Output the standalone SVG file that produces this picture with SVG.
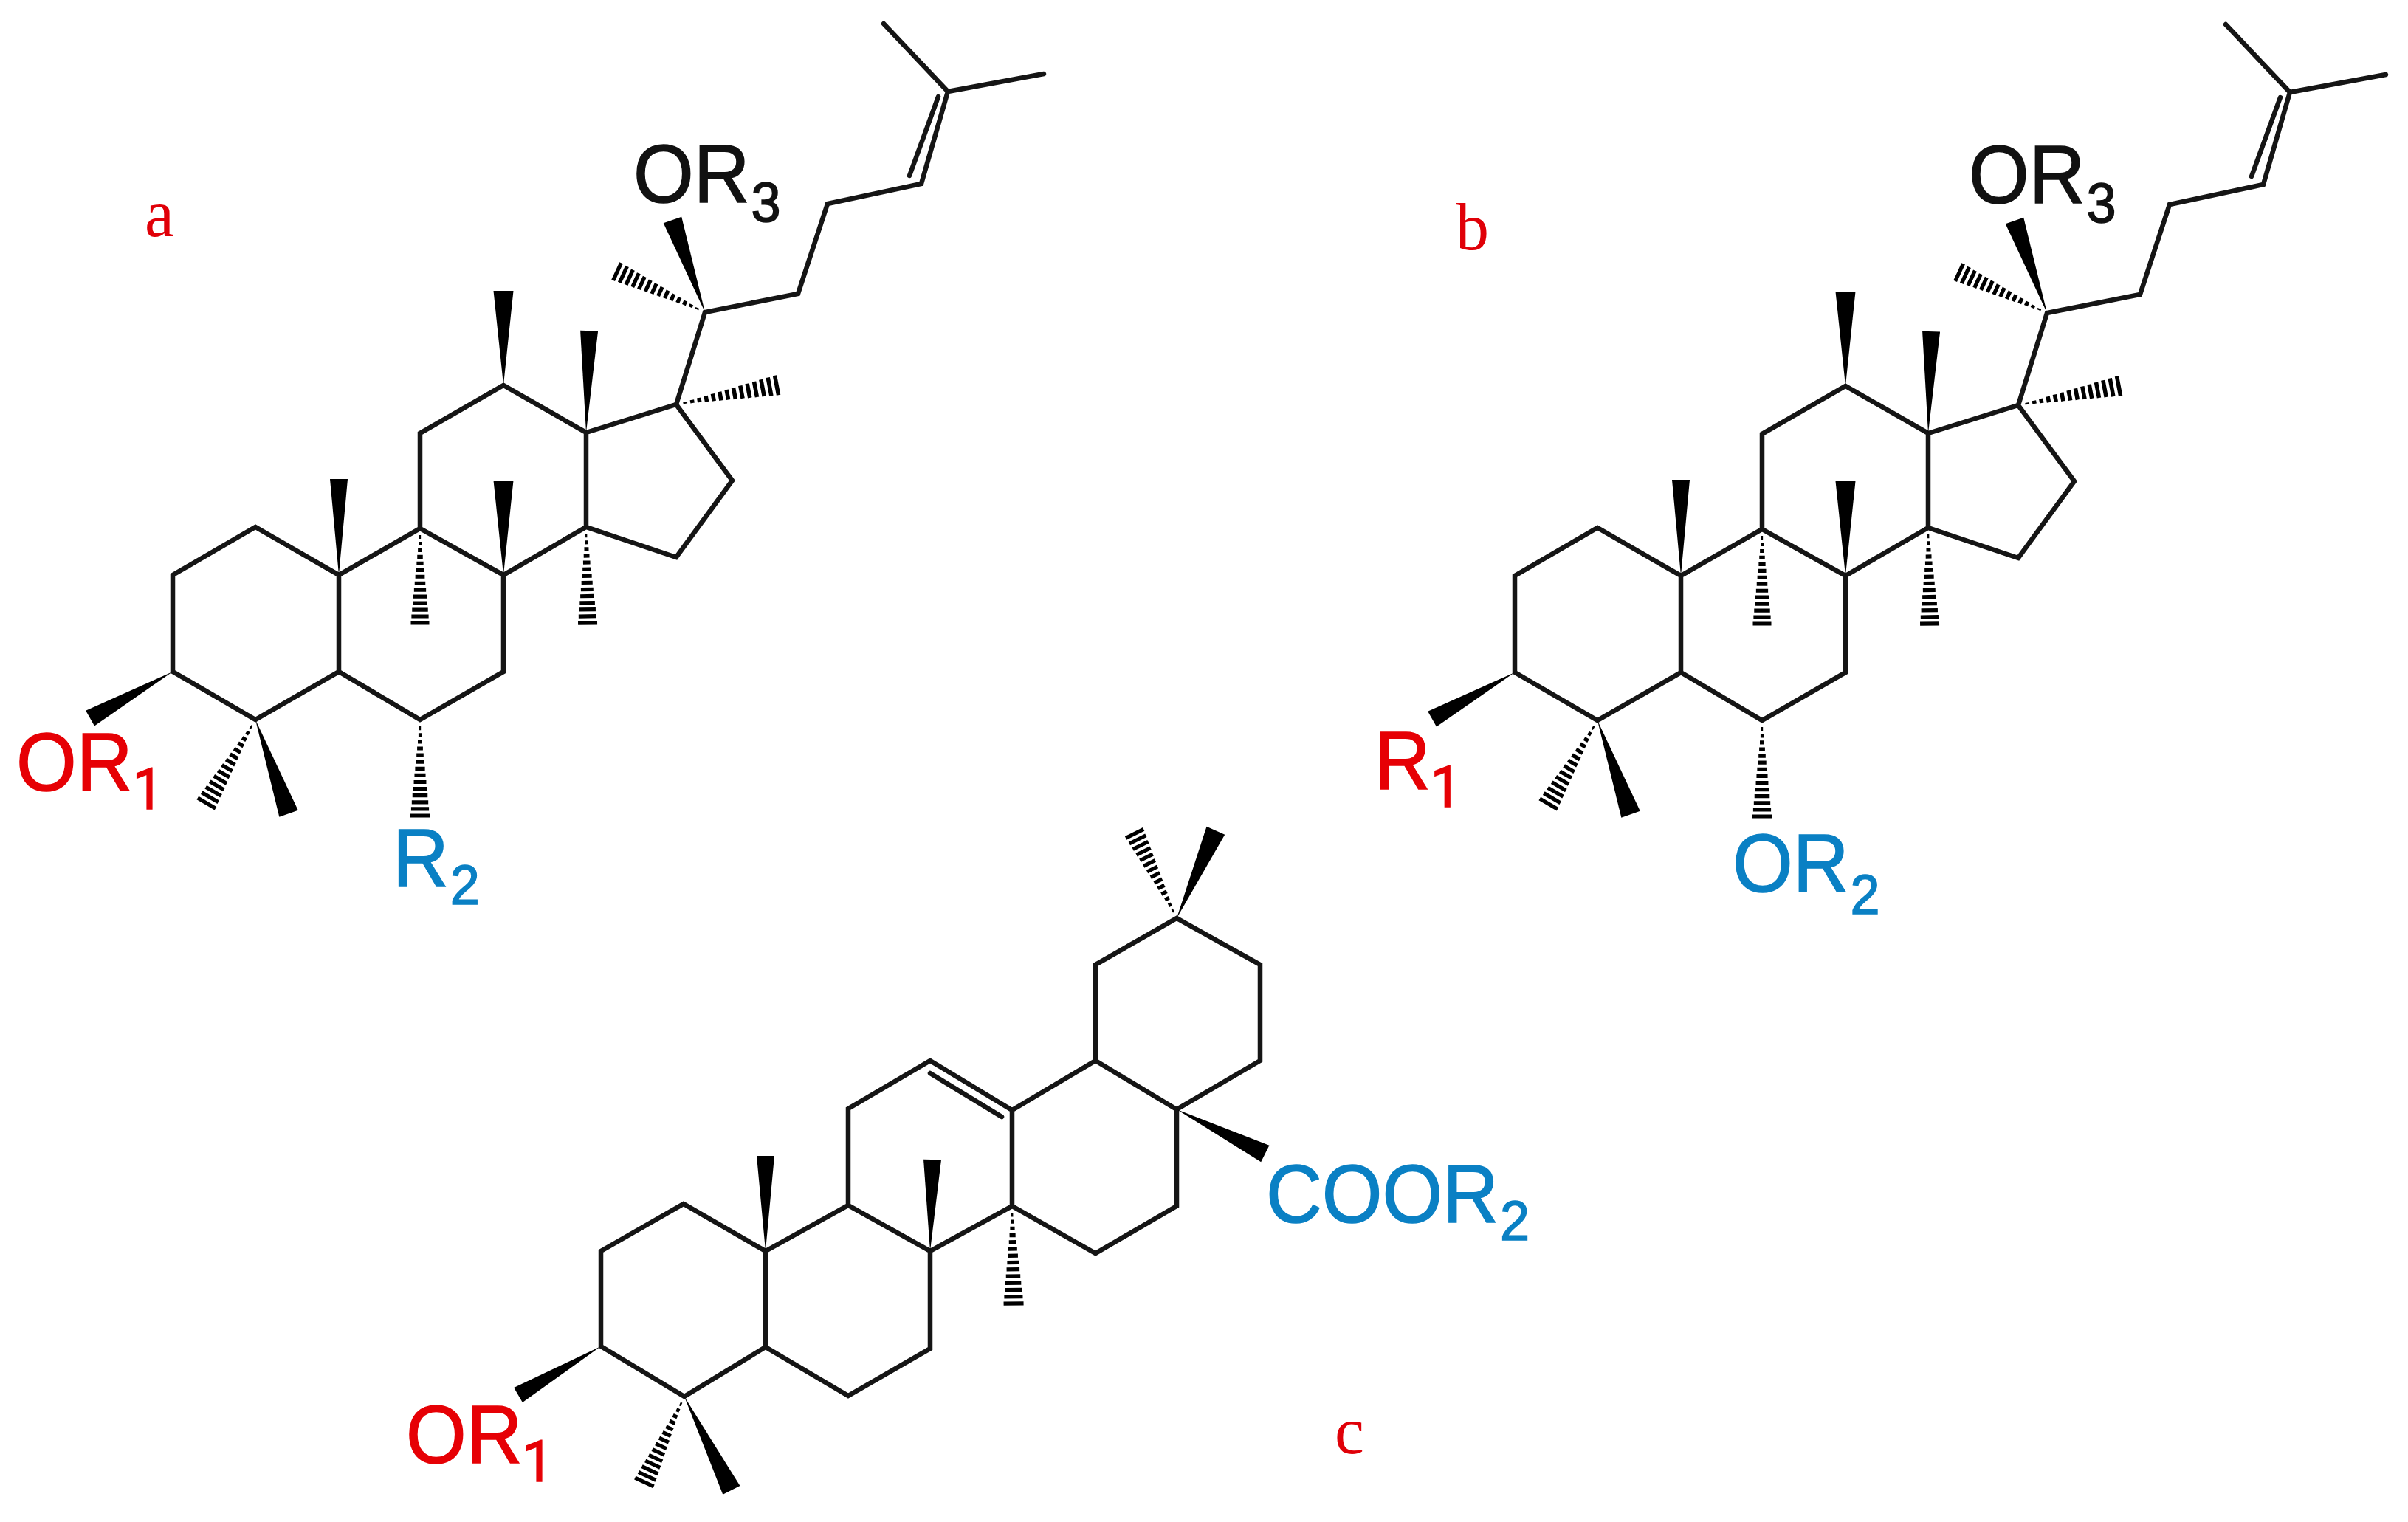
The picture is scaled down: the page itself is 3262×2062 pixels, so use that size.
<svg xmlns="http://www.w3.org/2000/svg" width="3262" height="2062" viewBox="0 0 3262 2062">
<style>
.bond{fill:none;stroke:#151515;stroke-width:6.5;stroke-linejoin:miter;stroke-linecap:round}
.chem{font-family:"Liberation Sans",Arial,sans-serif;font-size:105px;stroke-width:1.5}
.tag{font-family:"Liberation Serif","Times New Roman",serif;font-size:90px;fill:#e00008}
.red{fill:#e60005;stroke:#e60005}.blue{fill:#0a80c4;stroke:#0a80c4}.black{fill:#111;stroke:#111}
.sub{font-size:72px}
.one{font-family:Roboto,"Liberation Sans",sans-serif;font-size:74px}
</style>
<defs>
<polygon id="wedge" points="0,0 100,-50 100,50" fill="#000"/>
<path id="hash" fill="none" stroke="#000" stroke-width="4" d="M9,-4.5V4.5M16,-8V8M23,-11.5V11.5M30,-15V15M37,-18.5V18.5M44,-22V22M51,-25.5V25.5M58,-29V29M65,-32.5V32.5M72,-36V36M79,-39.5V39.5M86,-43V43M93,-46.5V46.5M100,-50V50"/>
<g id="dammarane">
<path class="bond" d="M234,779L346,714L459,779L459,910L346,975L234,910ZM459,779L569,716L682,779L682,910L569,975L459,910M569,716L569,587L682,522L794,586L794,714L682,779M794,714L916,755L992,651L916,548L794,586M916,548L955,423L1081,398L1121,276L1248,249L1284,124L1197,32M1284,124L1414,100M1271,131L1232,238"/>
<use href="#wedge" transform="translate(682,522) rotate(-90) scale(1.28,.27)"/>
<use href="#wedge" transform="translate(794,586) rotate(-88.3) scale(1.38,.24)"/>
<use href="#wedge" transform="translate(459,779) rotate(-90) scale(1.3,.24)"/>
<use href="#wedge" transform="translate(682,779) rotate(-90) scale(1.28,.27)"/>
<use href="#wedge" transform="translate(234,910) rotate(150.6) scale(1.285,.24)"/>
<use href="#wedge" transform="translate(346,975) rotate(70.5) scale(1.35,.27)"/>
<use href="#wedge" transform="translate(955,423) rotate(-109.4) scale(1.325,.26)"/>
<use href="#hash" transform="translate(569,716) rotate(90) scale(1.28,.25)"/>
<use href="#hash" transform="translate(794,714) rotate(89.1) scale(1.3,.26)"/>
<use href="#hash" transform="translate(569,975) rotate(90) scale(1.3,.26)"/>
<use href="#hash" transform="translate(346,975) rotate(120.3) scale(1.31,.28)"/>
<use href="#hash" transform="translate(955,423) rotate(-155.2) scale(1.31,.26)"/>
<use href="#hash" transform="translate(916,548) rotate(-10.8) scale(1.385,.27)"/>
</g>
</defs>
<rect width="3262" height="2062" fill="#fff"/>
<g id="connectors">
<use id="structure-a-bonds" href="#dammarane"/>
<use id="structure-b-bonds" href="#dammarane" x="1818" y="1"/>
<g id="structure-c-bonds">
<path class="bond" d="M814,1695L926,1631L1037,1695L1037,1825L927,1892L814,1824ZM1037,1695L1149,1633L1260,1695L1260,1827L1149,1891L1037,1825M1149,1633L1149,1502L1260,1437L1371,1504L1371,1634L1260,1695M1371,1634L1484,1698L1594,1634L1594,1503L1484,1437L1371,1504M1484,1437L1484,1307L1594,1244L1707,1307L1707,1437L1594,1503M1260,1454L1357,1513"/>
<use href="#wedge" transform="translate(814,1824) rotate(149.5) scale(1.3,.23)"/>
<use href="#wedge" transform="translate(927,1892) rotate(63.3) scale(1.42,.26)"/>
<use href="#wedge" transform="translate(1037,1695) rotate(-90) scale(1.29,.24)"/>
<use href="#wedge" transform="translate(1260,1695) rotate(-88.6) scale(1.24,.24)"/>
<use href="#wedge" transform="translate(1594,1503) rotate(26.6) scale(1.34,.25)"/>
<use href="#wedge" transform="translate(1594,1244) rotate(-66) scale(1.3,.27)"/>
<use href="#hash" transform="translate(927,1892) rotate(115) scale(1.28,.28)"/>
<use href="#hash" transform="translate(1371,1634) rotate(89.1) scale(1.32,.27)"/>
<use href="#hash" transform="translate(1594,1244) rotate(-116.4) scale(1.28,.27)"/>
</g>
</g>
<g id="label-a"><text class="tag" x="196" y="320">a</text></g>
<g id="label-b"><text class="tag" x="1972" y="338">b</text></g>
<g id="label-c"><text class="tag" x="1808" y="1969">c</text></g>
<g id="a-OR1"><text class="chem red" transform="translate(22,1071) scale(1,1.06)">OR<tspan class="one" dx="0" dy="24">1</tspan></text></g>
<g id="a-R2"><text class="chem blue" transform="translate(532,1201) scale(1,1.06)">R<tspan class="sub" dx="2" dy="23">2</tspan></text></g>
<g id="a-OR3"><text class="chem black" transform="translate(858,274) scale(1,1.06)">OR<tspan class="sub" dx="2" dy="24.5">3</tspan></text></g>
<g id="b-R1"><text class="chem red" transform="translate(1862,1069) scale(1,1.06)">R<tspan class="one" dx="0" dy="23">1</tspan></text></g>
<g id="b-OR2"><text class="chem blue" transform="translate(2347,1208) scale(1,1.06)">OR<tspan class="sub" dx="2" dy="28">2</tspan></text></g>
<g id="b-OR3"><text class="chem black" transform="translate(2667,275) scale(1,1.06)">OR<tspan class="sub" dx="2" dy="24.5">3</tspan></text></g>
<g id="c-OR1"><text class="chem red" transform="translate(550,1982) scale(1,1.06)">OR<tspan class="one" dx="0" dy="24">1</tspan></text></g>
<g id="c-COOR2"><text class="chem blue" transform="translate(1715,1656) scale(1,1.06)">COOR<tspan class="sub" dx="2" dy="23">2</tspan></text></g>
</svg>
